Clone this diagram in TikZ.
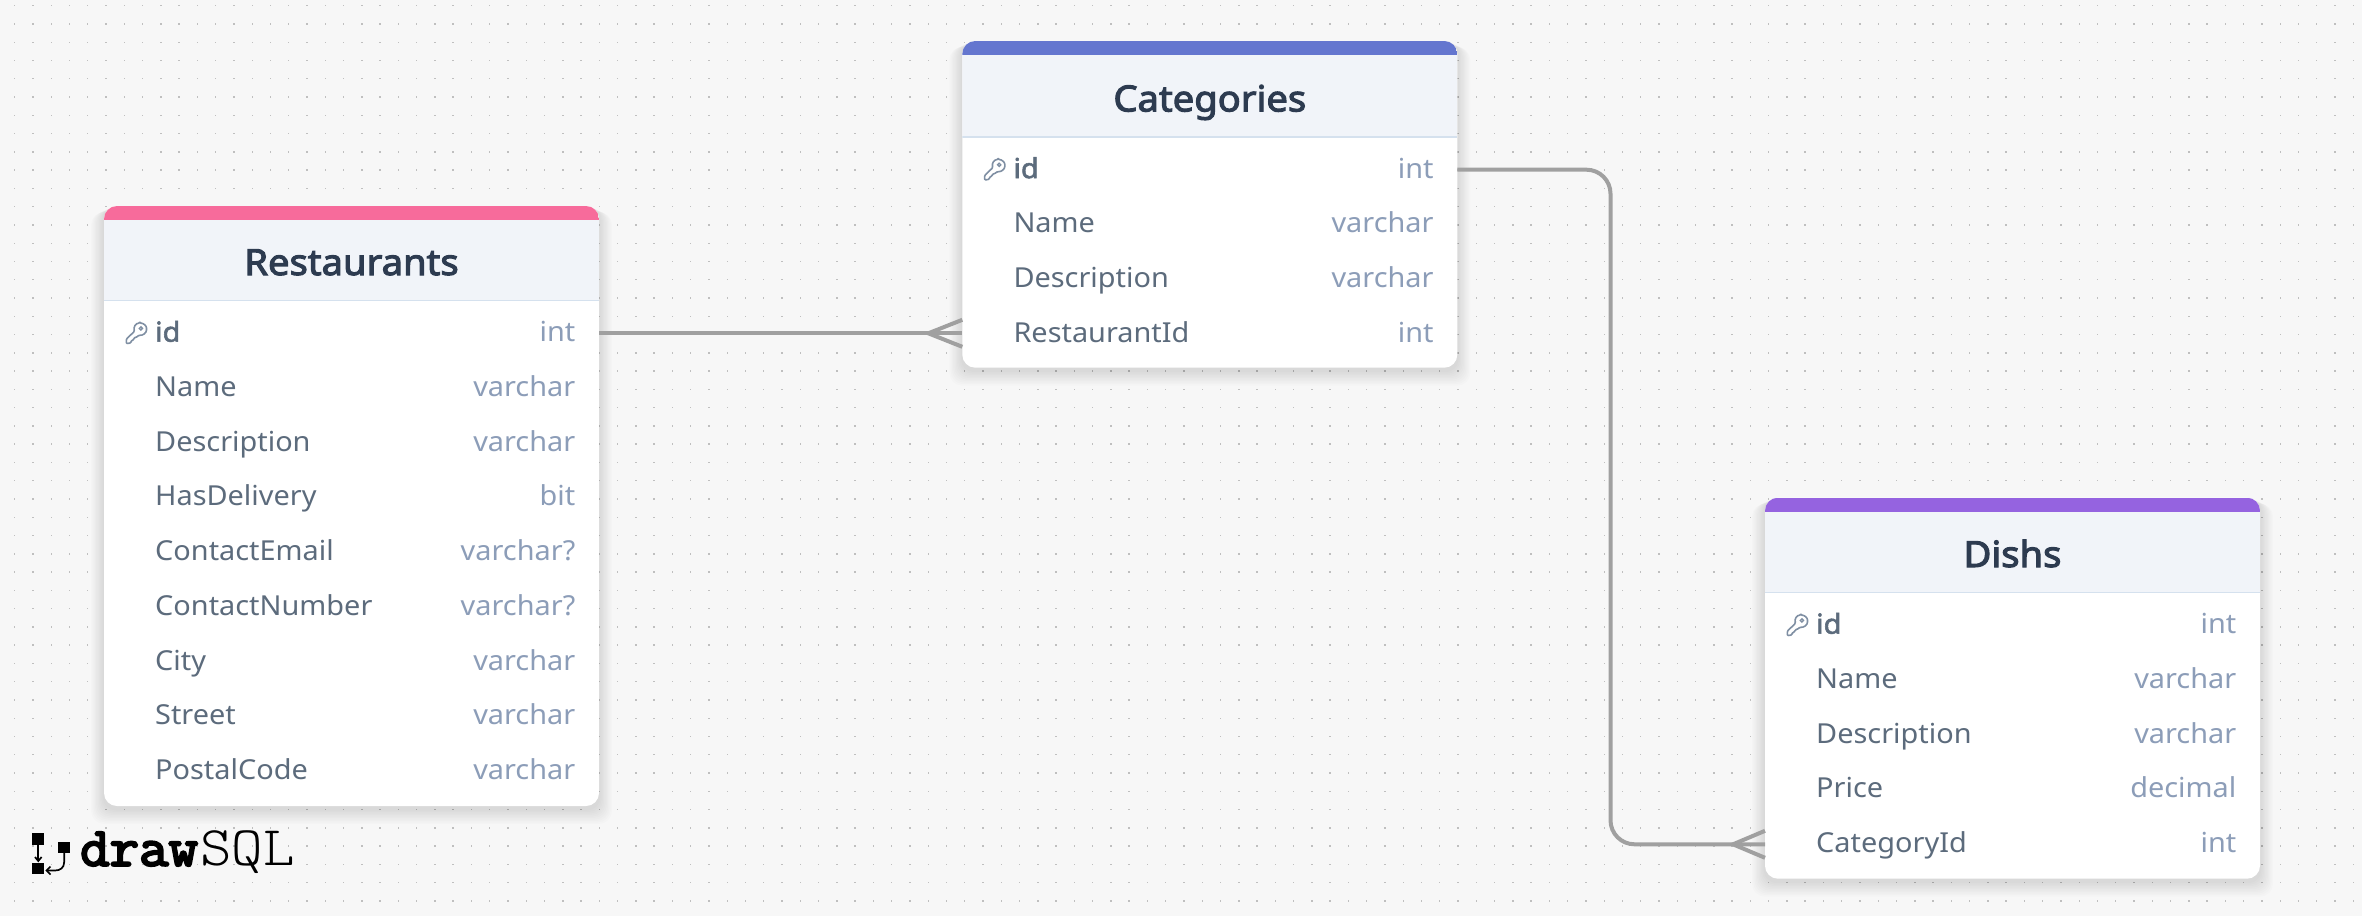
\documentclass[tikz,border=0pt]{standalone}
\usepackage{fontspec}
\setmainfont{Noto Sans}
\newfontfamily\logofont[FakeBold=4,FakeStretch=1.04]{Latin Modern Mono}
\newfontfamily\logolight[FakeStretch=1.07]{Latin Modern Mono Light}
\newfontfamily\titlefont[FakeBold=3,FakeStretch=1.06]{Noto Sans}
\newfontfamily\rowfont[FakeStretch=1.05]{Noto Sans}
\newfontfamily\rowbold[FakeBold=2,FakeStretch=1.05]{Noto Sans}
\definecolor{bg}{HTML}{F7F7F7}
\definecolor{griddot}{HTML}{BFBFBF}
\definecolor{headbg}{HTML}{F1F4F9}
\definecolor{headline}{HTML}{D5E1EE}
\definecolor{titlecol}{HTML}{2D3B50}
\definecolor{fieldcol}{HTML}{5C6B7C}
\definecolor{typecol}{HTML}{8C9DB8}
\definecolor{conncol}{HTML}{A0A0A0}
\definecolor{keycol}{HTML}{7F8FA3}
\definecolor{pinkbar}{HTML}{F76B9B}
\definecolor{bluebar}{HTML}{6476CF}
\definecolor{purplebar}{HTML}{9563E0}
\newcommand{\cardw}{495}
\newcommand{\rowh}{54.75}
\tikzset{
  x=1pt,y=-1pt,
  cardbody/.style={fill=white,rounded corners=13pt,draw=none,inner sep=0pt,outer sep=0pt,rectangle,anchor=north west,minimum width=\cardw pt},
  rowbox/.style={rectangle,inner sep=0pt,outer sep=0pt,minimum width=\cardw pt,minimum height=\rowh pt,anchor=center},
  title/.style={anchor=base,inner sep=0pt,text=titlecol,font=\titlefont\fontsize{36}{40}\selectfont},
  fieldname/.style={anchor=base west,inner sep=0pt,text=fieldcol,font=\rowfont\fontsize{27.5}{32}\selectfont},
  fieldkey/.style={fieldname,font=\rowbold\fontsize{27.5}{32}\selectfont},
  fieldtype/.style={anchor=base east,inner sep=0pt,text=typecol,font=\rowfont\fontsize{27.5}{32}\selectfont},
  conn/.style={draw=conncol,line width=4pt,rounded corners=24pt},
  foot/.style={draw=conncol,line width=4pt},
}
% #1 name, #2 left, #3 top, #4 bottom, #5 bar colour, #6 title, #7 first row centre
\newcommand{\card}[7]{%
  \foreach \s in {1,...,10}{
    \fill[black,opacity=0.010,rounded corners=13pt] (#2-\s*1.3,#3+\s*0.6) rectangle (#2+\cardw+\s*1.3,#4+3+\s*1.5);
  }
  \node[cardbody,minimum height=#4-#3 pt] (#1) at (#2,#3) {};
  \begin{scope}
    \clip[rounded corners=13pt] (#2,#3) rectangle (#2+\cardw,#4);
    \fill[headbg] (#2,#3+13) rectangle (#2+\cardw,#7-32.5);
    \fill[#5] (#2,#3) rectangle (#2+\cardw,#3+14);
    \fill[headline] (#2,#7-33.5) rectangle (#2+\cardw,#7-32);
  \end{scope}
  \node[title] (#1title) at (#2+\cardw/2,#7-58.3) {#6};
  \keyicon{#2+21.7}{#7-10.5}
}
% key icon: x,y of top-left of a 21 x 21 box
\newcommand{\keyicon}[2]{%
  \begin{scope}[shift={(#1,#2)}]
    \draw[keycol,line width=1.6pt,line join=round,rounded corners=1pt]
      (14.2,0.3) .. controls (17.8,0.3) and (20.8,3) .. (20.8,6.2)
      .. controls (20.8,10) and (17.3,12.8) .. (13.2,12.4)
      -- (10.6,14.6) -- (8.4,14.8) -- (8.2,17) -- (6,17.4) -- (5,20.2) -- (0.6,20.8)
      -- (0.6,16.4) -- (8.8,8.4)
      .. controls (7.6,4.2) and (10,0.3) .. (14.2,0.3) -- cycle;
    \draw[keycol,line width=1.3pt] (15.2,5.6) circle[radius=1.6];
  \end{scope}
}
% #1 row node name, #2 card left, #3 row centre, #4 name, #5 type, #6 style
\newcommand{\row}[6]{%
  \node[rowbox] (#1) at (#2+\cardw/2,#3) {};
  \node[#6] (#1n) at (#2+51,#3+8.4) {#4};
  \node[fieldtype] (#1t) at (#2+471.5,#3+8.4) {#5};
}
\begin{document}
\begin{tikzpicture}
\useasboundingbox (0,0) rectangle (2362,916);
\fill[bg] (0,0) rectangle (2362,916);
\foreach \i in {0,...,128}{
  \foreach \j in {0,...,49}{
    \fill[griddot] (14+18.27*\i,5+18.27*\j) rectangle ++(1.4,1.4);
  }
}
% Restaurants
\card{rest}{104}{206}{806}{pinkbar}{Restaurants}{333.3}
\row{ra}{104}{333.3}{id}{int}{fieldkey}
\row{rb}{104}{388.05}{Name}{varchar}{fieldname}
\row{rc}{104}{442.8}{Description}{varchar}{fieldname}
\row{rd}{104}{497.55}{HasDelivery}{bit}{fieldname}
\row{re}{104}{552.3}{ContactEmail}{varchar?}{fieldname}
\row{rf}{104}{607.05}{ContactNumber}{varchar?}{fieldname}
\row{rg}{104}{661.8}{City}{varchar}{fieldname}
\row{rh}{104}{716.55}{Street}{varchar}{fieldname}
\row{ri}{104}{771.3}{PostalCode}{varchar}{fieldname}
% Categories
\card{cat}{962.3}{41}{367.7}{bluebar}{Categories}{169.7}
\row{ca}{962.3}{169.7}{id}{int}{fieldkey}
\row{cb}{962.3}{224.45}{Name}{varchar}{fieldname}
\row{cc}{962.3}{279.2}{Description}{varchar}{fieldname}
\row{cd}{962.3}{333.95}{RestaurantId}{int}{fieldname}
% Dishs
\card{dish}{1765}{497.7}{878.7}{purplebar}{Dishs}{625.3}
\row{da}{1765}{625.3}{id}{int}{fieldkey}
\row{db}{1765}{680.05}{Name}{varchar}{fieldname}
\row{dc}{1765}{734.8}{Description}{varchar}{fieldname}
\row{dd}{1765}{789.55}{Price}{decimal}{fieldname}
\row{de}{1765}{844.3}{CategoryId}{int}{fieldname}
% Connectors
\coordinate (mid) at (1610.5,0);
\draw[conn] (ra.east) -- (ra.east -| cd.west);
\draw[conn] (ca.east) -- (mid |- ca.east) -- (mid |- de.west) -- (de.west);
% Crow's feet
\coordinate (tipc) at ([xshift=-34pt]ra.east -| cd.west);
\coordinate (tipd) at ([xshift=-32pt]de.west);
\draw[foot] ([yshift=13.5pt]ra.east -| cd.west) -- (tipc) -- ([yshift=-13.5pt]ra.east -| cd.west);
\draw[foot] ([yshift=13.5pt]de.west) -- (tipd) -- ([yshift=-13.5pt]de.west);
% Logo
\fill[black] (32.4,833.3) rectangle (44.3,845);
\fill[black] (32.4,862.7) rectangle (44.3,874.3);
\fill[black] (58,842) rectangle (70.4,853.3);
\draw[black,line width=1.7pt] (38.3,845) -- (38.3,861);
\draw[black,line width=1.7pt] (35,857) -- (38.3,861) -- (41.6,857);
\draw[black,line width=1.7pt] (64.2,853) -- (64.2,862) .. controls (64.2,868) and (60,870.5) .. (55,870.5) -- (47,870.5);
\draw[black,line width=1.7pt] (50.5,866.5) -- (46.5,870.5) -- (50.5,874.5);
\node[anchor=base west,inner sep=0pt,font=\logofont\fontsize{55}{60}\selectfont\bfseries] (logoa) at (80,865.7) {draw};
\node[anchor=base west,inner sep=0pt,font=\logolight\fontsize{56}{60}\selectfont] (logob) at (200,865.7) {SQL};
\end{tikzpicture}
\end{document}
